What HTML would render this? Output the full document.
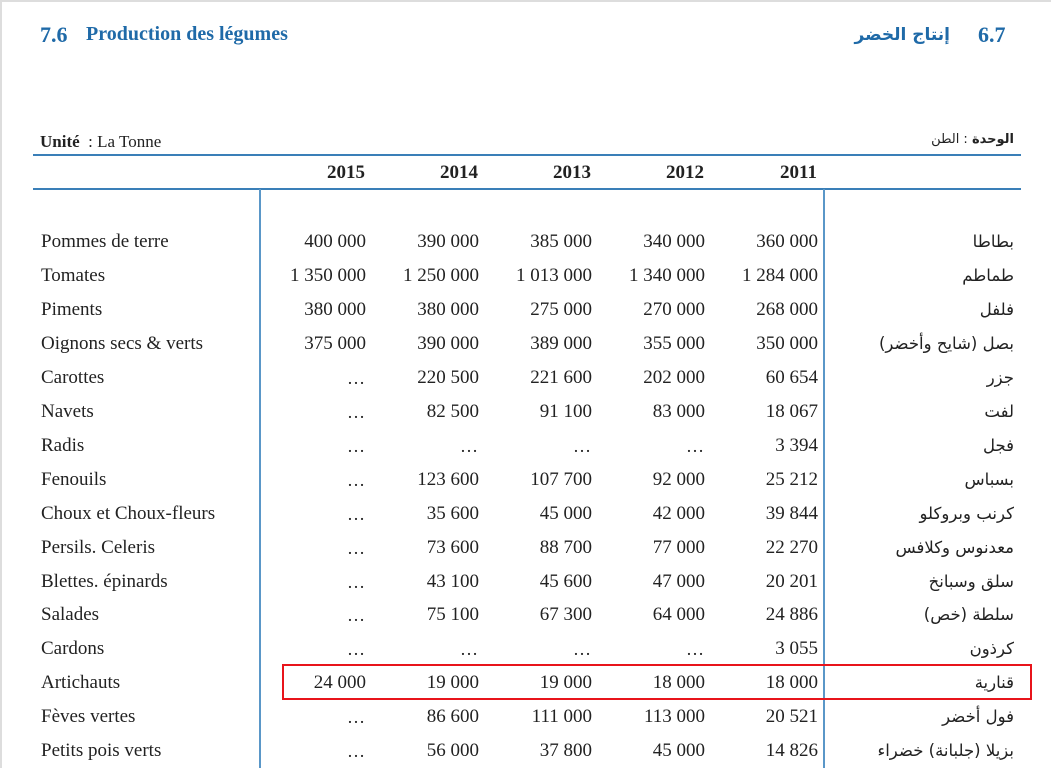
<!DOCTYPE html>
<html><head><meta charset="utf-8"><style>
body{margin:0;width:1051px;height:768px;overflow:hidden;background:#fff;position:relative;font-family:"Liberation Serif","DejaVu Sans",serif;color:#222}
.a{position:absolute;white-space:nowrap}
.t{color:#1f6aa8;font-weight:bold;font-size:20px}
.r{font-size:19px;line-height:20px}
.n{text-align:right;width:120px}
.ar{font-family:"DejaVu Sans",sans-serif;font-size:16.5px;direction:rtl;text-align:right;right:37px}
.hl{position:absolute;left:33px;width:988px;height:2px;background:#3a7fb8}
.vl{position:absolute;top:189px;height:579px;width:1.5px;background:#5a97c8}
</style></head><body>
<div style="position:absolute;left:0;top:0;width:1051px;height:2px;background:#ddd"></div>
<div style="position:absolute;left:0;top:0;width:2px;height:768px;background:#ddd"></div>
<div class="a t" style="left:40px;top:22px;font-size:22px">7.6</div>
<div class="a t" style="left:86px;top:23px">Production des légumes</div>
<div class="a t" style="left:978px;top:22px;font-size:22px">6.7</div>
<div class="a t" style="right:101px;top:25px;font-family:'DejaVu Sans',sans-serif;font-size:17px;direction:rtl">إنتاج الخضر</div>
<div class="a r" style="left:40px;top:132px;font-size:17px"><b>Unité</b> &nbsp;: La Tonne</div>
<div class="a" style="right:37px;top:132px;font-family:'DejaVu Sans',sans-serif;font-size:13px;direction:rtl"><b>الوحدة</b> : الطن</div>
<div class="hl" style="top:154px"></div>
<div class="hl" style="top:188px"></div>
<div class="vl" style="left:259px"></div>
<div class="vl" style="left:823px"></div>
<div class="a r n" style="left:245px;top:163px;font-weight:bold">2015</div>
<div class="a r n" style="left:358px;top:163px;font-weight:bold">2014</div>
<div class="a r n" style="left:471px;top:163px;font-weight:bold">2013</div>
<div class="a r n" style="left:584px;top:163px;font-weight:bold">2012</div>
<div class="a r n" style="left:697px;top:163px;font-weight:bold">2011</div>
<div id="rows"></div>
<div style="position:absolute;left:282px;top:664px;width:746px;height:32px;border:2px solid #e8141b"></div>
<script>
var d=[["Pommes de terre","400 000","390 000","385 000","340 000","360 000","بطاطا"],
["Tomates","1 350 000","1 250 000","1 013 000","1 340 000","1 284 000","طماطم"],
["Piments","380 000","380 000","275 000","270 000","268 000","فلفل"],
["Oignons secs & verts","375 000","390 000","389 000","355 000","350 000","بصل (شايح وأخضر)"],
["Carottes","…","220 500","221 600","202 000","60 654","جزر"],
["Navets","…","82 500","91 100","83 000","18 067","لفت"],
["Radis","…","…","…","…","3 394","فجل"],
["Fenouils","…","123 600","107 700","92 000","25 212","بسباس"],
["Choux et Choux-fleurs","…","35 600","45 000","42 000","39 844","كرنب وبروكلو"],
["Persils.  Celeris","…","73 600","88 700","77 000","22 270","معدنوس وكلافس"],
["Blettes. épinards","…","43 100","45 600","47 000","20 201","سلق وسبانخ"],
["Salades","…","75 100","67 300","64 000","24 886","سلطة (خص)"],
["Cardons","…","…","…","…","3 055","كرذون"],
["Artichauts","24 000","19 000","19 000","18 000","18 000","قنارية"],
["Fèves vertes","…","86 600","111 000","113 000","20 521","فول أخضر"],
["Petits pois verts","…","56 000","37 800","45 000","14 826","بزيلا (جلبانة) خضراء"]];
var h="",xs=[246,359,472,585,698];
d.forEach(function(r,i){var y=232+i*33.95;
h+='<div class="a r" style="left:41px;top:'+y+'px">'+r[0]+'</div>';
for(var j=0;j<5;j++){var dots=r[j+1]=="…";h+='<div class="a r n" style="left:'+xs[j]+'px;top:'+y+'px;'+(dots?'font-size:18px;letter-spacing:1px':'')+'">'+r[j+1]+'</div>';}
h+='<div class="a ar" style="top:'+y+'px">'+r[6]+'</div>';});
document.getElementById("rows").innerHTML=h;
</script>
</body></html>
